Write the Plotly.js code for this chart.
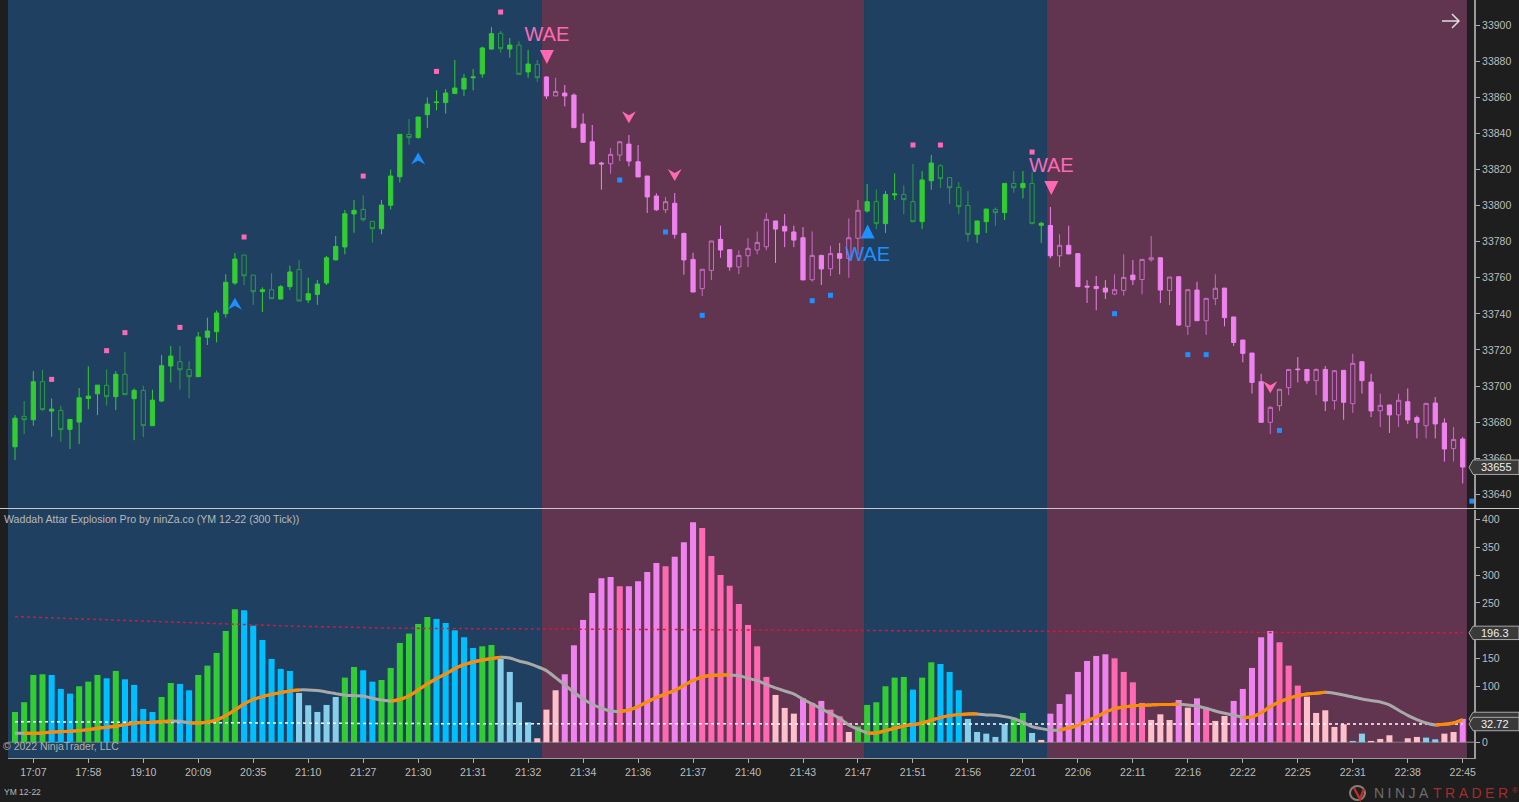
<!DOCTYPE html>
<html>
<head>
<meta charset="utf-8">
<script src="https://cdn.plot.ly/plotly-3.0.1.min.js"></script>
<style>html,body{margin:0;padding:0;background:#1e1e1e;overflow:hidden}#chart{width:1519px;height:802px}</style>
</head>
<body>
<div id="chart"></div>
<script>
const candleOpen=[33666.3,33683.2,33681.3,33702.4,33686.1,33686.5,33676,33680,33693.1,33695.7,33700.4,33694.1,33706.5,33693,33697.6,33678,33691.7,33711.1,33713.5,33709.2,33705.2,33727,33730.1,33740.1,33757.1,33772.6,33761.5,33752.3,33753.4,33748.2,33755.1,33764.5,33747.7,33750.8,33757.1,33769.9,33777.1,33795.4,33797.9,33791.3,33787.2,33800.2,33816,33839.5,33837.7,33850.4,33857.1,33857.1,33862.1,33864.6,33870.9,33873,33886.8,33895.5,33886.8,33889,33874.1,33878.3,
33871.3,33860.8,33862.4,33861.3,33845.2,33835.4,33823.6,33823.2,33828,33834.1,33824.3,33816.4,33805.3,33797.7,33801.3,33784.6,33770.2,33754,33764.1,33781.3,33775.6,33766,33772.2,33775.4,33777.2,33791.5,33788.5,33785.4,33782.2,33758.9,33772.4,33765,33773.4,33770.8,33781.9,
33797,33802.2,33790,33805.9,33806.2,33802.2,33791.1,33813.8,33822.1,33815.5,33810.1,33800.1,33784.1,33791.1,33797.9,33796.1,33812.3,33809.9,33812.3,33789.1,
33789,33772.2,33778,33773.4,33755.4,33755.2,33754.3,33751,33753,33761.5,33759,33770,33771.1,33753,33760.6,33733.1,33753.2,33736.2,33748.4,33754.3,33738.3,33725.5,33718.3,33702.4,33679.9,33689.1,33699.1,33709.4,33709.2,33703,33709.2,33691.9,33708.7,33690.2,33713.5,33702.2,33686.3,33689.5,33684,33691.3,33682.5,33678,33690.6,33679.5,33665.3,33670.6];
const candleHigh=[33683.9,33691.7,33708.3,33709,33693.1,33689.1,33681.5,33698.9,33710.9,33700.5,33709.2,33708.3,33718.8,33698.7,33700.2,33698,33717.2,33722.2,33722.2,33713.8,33729.9,33737.9,33741.9,33761.9,33773.7,33772.6,33761.5,33754.7,33762.6,33756,33766.7,33769.7,33760.1,33758.8,33772.1,33783.2,33797.6,33803.1,33805.7,33791.3,33803.1,33820,33839.5,33848,33849.1,33860,33863.9,33864.6,33880.7,33873,33875.7,33888.1,33899,33896.8,33892.9,33891.1,33886.3,33880.7,
33871.8,33870.9,33866.9,33862.2,33851.1,33844.7,33824.3,33831.9,33835.8,33839.1,33833.6,33816.4,33806.8,33804.8,33807,33785,33773.9,33764.7,33780.4,33788.9,33775.6,33775.2,33782,33785.7,33795.9,33791.5,33795.3,33788.9,33788.1,33785.7,33772.8,33777.8,33779.3,33792.9,33803.1,
33812,33809,33808.1,33817.9,33811.2,33823.1,33819.2,33828.1,33822.9,33815.5,33813.1,33808.1,33791.5,33798.1,33799,33812.3,33819.2,33819.2,33818.4,33791.1,
33799.2,33784.1,33788.9,33773.4,33758.7,33761,33758.7,33761.9,33773,33769.9,33770.2,33783.1,33771.1,33760.4,33760.6,33753.4,33757.8,33748.6,33761.9,33754.3,33738.3,33725.5,33718.3,33706.8,33688.9,33698.2,33709.2,33716.1,33709.2,33709.8,33711.1,33708.5,33708.7,33717.9,33713.5,33706.8,33695.8,33689.5,33695.8,33698.7,33683.6,33690.4,33693.9,33682.1,33677.3,33671.7];
const candleLow=[33659,33673.4,33678,33686.3,33671.9,33669.1,33665.1,33667.8,33687.1,33683.9,33689.1,33686.7,33695.2,33670,33671.7,33678,33691,33702,33698,33693.2,33705.2,33722.7,33724.2,33737.9,33756,33756,33744.9,33741,33748.4,33748.2,33753.2,33747.1,33746,33745,33756,33769.9,33773,33785,33791.1,33779.5,33784.1,33797.9,33812.9,33833.8,33837.1,33843,33852.8,33851,33862.1,33860.8,33863.9,33870.9,33886.3,33884.8,33882,33872.8,33870.9,33868.7,
33859.1,33860.8,33855,33843.2,33835.1,33823.1,33808.8,33817.7,33824.7,33821.8,33815.9,33795.9,33797,33795.9,33781.7,33761.7,33752.1,33749.9,33758.7,33771.1,33763.9,33762.1,33766,33773,33775.2,33768.2,33777,33777,33758.8,33757.8,33756,33761,33761.9,33760,33772.6,
33796.1,33787,33784.8,33803.1,33795.2,33791.1,33787,33808.8,33809.8,33800.9,33795.2,33780,33779.3,33784.8,33788.9,33792,33807.2,33804,33790,33779.3,
33770.8,33766,33773.2,33755.1,33746,33742,33748.2,33750.4,33750.1,33756,33750.8,33768.9,33746,33744.9,33733.3,33728.3,33736.2,33728.3,33744.9,33733.1,33722.2,33713.1,33695.8,33679.9,33673.4,33686.2,33695,33702,33701.3,33695,33686.1,33686.9,33681.3,33685.1,33695.8,33682.8,33677.3,33674,33677.3,33679,33671,33671,33671,33658.1,33658.1,33646];
const candleClose=[33682.2,33681.3,33702.4,33686.9,33687.2,33675.8,33681.5,33693.5,33694.4,33700.5,33694.1,33706.5,33695.2,33697.6,33678,33692.2,33711.3,33716.6,33709,33705.2,33727.2,33730.5,33740.5,33757.5,33770.4,33761.1,33752.3,33753.4,33748.4,33755.1,33763.2,33747.1,33751.2,33756.5,33771.1,33777.4,33795.5,33797.4,33792.2,33787.2,33800.3,33816.4,33839.5,33837.7,33849.1,33856.3,33857.4,33862.4,33865.2,33870.6,33871.3,33887.4,33895.3,33887,33889,33872.8,33878.5,33870.9,
33860.8,33863.3,33860.8,33843.2,33835.1,33823.1,33823.1,33828.4,33835.4,33824.7,33815.9,33804.8,33797.7,33802.2,33784.1,33769.9,33752.1,33764.7,33780.4,33775.4,33766,33772.4,33776.3,33779.6,33792.4,33787,33785.9,33780.9,33758.8,33772.4,33764.9,33773.4,33770.8,33782.2,33797.4,
33802.2,33790,33806.2,33806.5,33803.3,33791.1,33814.2,33823.6,33814.9,33809.9,33799.4,33784.1,33791.5,33798.1,33796.1,33812.3,33809.9,33812.3,33790,33790.2,
33772.2,33778,33773.2,33755.1,33754.9,33754,33752.1,33753.4,33760.2,33758.9,33770.2,33771.1,33753.2,33760.4,33733.8,33753.4,33736.2,33748.6,33754.2,33737.9,33724.2,33718.1,33702,33679.9,33688.2,33698.2,33709.2,33709.1,33703,33709.2,33691.7,33708.5,33691,33712.6,33703,33686.2,33689.3,33684,33692.1,33681.2,33679.9,33690.4,33679,33665.1,33670.4,33655.1];
const wvValues=[54.4,71.8,120.8,122,120.8,95.7,87.3,100.5,108.8,120.8,114.8,128,113,102.9,59.8,54.4,81.3,106.4,104.7,93.3,120.8,137.5,160.3,199.7,238.6,236.8,209.3,183.6,149.5,131.6,128,88.5,66.4,54.4,67,81.3,116,135.1,129.2,108.8,111.8,133.4,178.2,195,212.3,224.8,221.3,214,200.9,188.4,169.2,172.2,174.6,149.5,126.2,71.8,35.9,7.2,58.6,93.3,122,174,219.5,267.9,294.2,296.6,279.9,279.9,288.8,305.6,321.7,315.7,333,358.8,394.7,384.5,334.3,300.2,281,248.2,210.5,172.2,117.2,84.9,61.6,51.4,78.9,70.6,74.2,58.6,46.6,18.5,28.7,67,71.8,100.5,116,117.2,94.5,116,143.5,140.5,126.2,93.3,41.9,18.5,15.5,9.6,32.9,44.3,52.6,16.7,4.2,51.4,68.8,86.1,126.2,145.9,154.9,157.9,150.7,126.2,107.6,70.6,40.1,50.2,40,75.9,62.2,78.9,62.2,38.3,47.2,74.2,95.7,133.4,188.4,199.7,179.4,137.5,101.7,81.9,52.6,57.4,27.5,32.3,2.4,15.5,2.4,6,12.6,0,7.2,9.6,8.4,5.4,15.5,18.5,41.9];
const wvCodeRuns=["GGGG","BBB","GGG","B","G","BBBB","GG","BB","GGGGG","BBBBBB","LLLLL","GG","BB","GGGGGG","BBBBB","GG","LLLL","PPP","VVVVVV","H","VVVV","H","VVV","HHHHHHHH","PPP","V","H","V","HH","P","GGGGGG","B","GG","BBB","LLLLL","GG","L","P","VVVVVVV","HHHH","PPP","V","P","V","H","PP","VVVVV","HHH","PPPPP","LL","PPPPPP","LL","PP","V"];
const lineValues=[16.1,16.1,16.1,16.7,18.5,19.1,19.7,20.9,22.7,25.1,26.9,28.7,31.7,34.1,35.3,35.9,37.1,38.3,37.7,34.7,34.7,36.5,40,47.8,58,68.8,77.1,81.9,86.1,89.1,92.1,93.9,93.9,92.7,90.3,87.3,84.3,83.7,83.1,78.9,75.9,74,76.8,83.1,93.9,104.7,114.2,122.6,132.2,139.3,144.1,147.7,150.1,152.5,151.3,145.9,141.7,135.7,128.6,116,102.9,89.7,77.7,68.2,61,56.2,55.6,58,64,72.4,80.1,86.7,93.3,101.7,111.2,117.2,120.2,120.8,120.8,119.6,114.8,110.6,104,97.5,92,86.7,77.1,68.8,59.8,52,43,31.1,23.3,16.7,16.7,20.9,25.1,29.3,31.7,34.7,39.5,44.3,47.8,49.6,50.8,50.8,49,48.4,46,42.5,35.9,28.1,24.5,22.1,22.1,25.7,30.5,38.3,45.4,53.8,60.4,63.4,65.2,66.4,67,67.6,67.6,68.8,67,65.2,61,56.2,52,48.4,44.9,45.4,53.2,64,72.4,78.9,83.7,86.7,87.9,89.7,87.9,84.9,81.3,77.7,74.8,72.4,67,57.4,48.4,40.7,34.7,31.1,32.3,34.7,40.7];
const orangeSegments=[[1,17],[19,31],[41,53],[66,78],[93,105],[114,127],[134,143],[155,158]];
const redIdx=[0,10,20,30,42,60,84,100,120,140,158];
const redVals=[225.4,220,214,208.5,204.5,203,201.5,199.5,197.8,196.8,196.3];
const whiteIdx=[0,20,42,84,158];
const whiteVals=[37,35,33.5,33,32.72];
const pinkDotIdx=[4,10,12,18,25,38,46,53,98,101,111];
const pinkDotVals=[33703.7,33719.6,33729.6,33732.5,33782.6,33816.4,33874.4,33907.3,33833.6,33833.6,33829.7];
const blueDotIdx=[66,71,75,87,89,120,128,130,138,159];
const blueDotVals=[33814.2,33785.4,33739.2,33747.3,33750.3,33740.1,33717.4,33717.4,33675.4,33636.2];
const upArrowIdx=[24,44];const upArrowVals=[33749,33829.5];
const downArrowIdx=[67,72,137];const downArrowVals=[33845.6,33813.6,33696];
const waeDownIdx=[58.05,113.1];const waeDownVals=[33882.4,33809.8];
const waeUpIdx=[93.05];const waeUpVals=[33785.6];
const waePinkTextVals=[33894,33821.5];const waeBlueTextVals=[33772.1];
const greenRanges=[[0,57],[93,112]];
const blueBands=[[-0.764,57.51],[92.66,112.63]];
const roseBands=[[57.51,92.66],[112.63,158.46]];
const tickIdx=[2,8,14,20,26,32,38,44,50,56,62,68,74,80,86,92,98,104,110,116,122,128,134,140,146,152,158];
const tickLabels=["17:07","17:58","19:10","20:09","20:35","21:10","21:27","21:30","21:31","21:32","21:34","21:36","21:37","21:40","21:43","21:47","21:51","21:56","22:01","22:06","22:11","22:16","22:22","22:25","22:31","22:38","22:45"];
const priceTicks=[33640,33660,33680,33700,33720,33740,33760,33780,33800,33820,33840,33860,33880,33900];
const wvTicks=[0,50,100,150,200,250,300,350,400];
const wvTickText=["0","","100","150","","250","300","350","400"];

const W=1519,H=802;
const px=v=>v/W, py=v=>1-v/H;
const FONT='"Liberation Sans",Arial,sans-serif';
const colors={G:'#32CD32',B:'#00BFFF',L:'#87CEEB',V:'#EE82EE',H:'#FF69B4',P:'#FFC0CB'};
const wvCodes=wvCodeRuns.join('');
const idx=candleOpen.map((_,i)=>i);
const isGreen=i=>greenRanges.some(r=>i>=r[0]&&i<=r[1]);
const pick=(arr,f)=>idx.filter(f).map(i=>arr[i]);
function candle(f,fillUp,fillDown,lineUp,lineDown){
  return {type:'candlestick',xaxis:'x',yaxis:'y',x:idx.filter(f),open:pick(candleOpen,f),high:pick(candleHigh,f),low:pick(candleLow,f),close:pick(candleClose,f),
    increasing:{line:{color:lineUp,width:1},fillcolor:fillUp},decreasing:{line:{color:lineDown,width:1},fillcolor:fillDown},hoverinfo:'skip',showlegend:false,whiskerwidth:0};
}
const inOrange=i=>orangeSegments.some(s=>i>=s[0]&&i<=s[1]);
const traces=[
  candle(isGreen,'#32CD32','rgba(0,0,0,0)','#32CD32','#2b9a46'),
  candle(i=>!isGreen(i),'rgba(0,0,0,0)','#EE82EE','#c86cc4','#EE82EE'),
  {type:'scatter',mode:'markers',xaxis:'x',yaxis:'y',x:pinkDotIdx,y:pinkDotVals,marker:{symbol:'square',size:5,color:'#FF69B4'},hoverinfo:'skip'},
  {type:'scatter',mode:'markers',xaxis:'x',yaxis:'y',x:blueDotIdx,y:blueDotVals,marker:{symbol:'square',size:5,color:'#1E90FF'},hoverinfo:'skip'},
  {type:'scatter',mode:'text',xaxis:'x',yaxis:'y',x:waeDownIdx,y:waePinkTextVals,text:['WAE','WAE'],textposition:'middle center',textfont:{family:FONT,size:20,color:'#FF69B4'},hoverinfo:'skip'},
  {type:'scatter',mode:'text',xaxis:'x',yaxis:'y',x:waeUpIdx,y:waeBlueTextVals,text:['WAE'],textposition:'middle center',textfont:{family:FONT,size:20,color:'#1E90FF'},hoverinfo:'skip'},
  {type:'bar',xaxis:'x',yaxis:'y2',x:idx,y:wvValues,width:0.66,marker:{color:wvCodes.split('').map(c=>colors[c]),line:{width:0}},hoverinfo:'skip'},
  {type:'scatter',mode:'lines',xaxis:'x',yaxis:'y2',x:redIdx,y:redVals,line:{color:'#DC143C',width:1.5,dash:'dot'},hoverinfo:'skip'},
  {type:'scatter',mode:'lines',xaxis:'x',yaxis:'y2',x:whiteIdx,y:whiteVals,line:{color:'#ffffff',width:1.5,dash:'dot'},hoverinfo:'skip'},
  {type:'scatter',mode:'lines',xaxis:'x',yaxis:'y2',x:idx,y:lineValues,line:{color:'#A9A9A9',width:3,shape:'spline',smoothing:0.6},hoverinfo:'skip'},
  {type:'scatter',mode:'lines',xaxis:'x',yaxis:'y2',x:idx,y:lineValues.map((v,i)=>inOrange(i)?v:null),line:{color:'#FF8C00',width:3,shape:'spline',smoothing:0.6},connectgaps:false,hoverinfo:'skip'}
];
const bandShape=(b,c)=>({type:'rect',layer:'below',xref:'x',yref:'paper',x0:b[0],x1:b[1],y0:py(758),y1:1,fillcolor:c,line:{width:0}});
const glyph=(xv,yv,path,color)=>({type:'path',layer:'above',xref:'x',yref:'y',xsizemode:'pixel',ysizemode:'pixel',xanchor:xv,yanchor:yv,path,fillcolor:color,line:{width:0}});
const shapes=[
  ...blueBands.map(b=>bandShape(b,'#1f4060')),
  ...roseBands.map(b=>bandShape(b,'#61344f')),
  ...upArrowIdx.map((x,k)=>glyph(x,upArrowVals[k],'M0,0L-7,-12L0,-8L7,-12Z','#1E90FF')),
  ...downArrowIdx.map((x,k)=>glyph(x,downArrowVals[k],'M0,0L-7,12L0,8L7,12Z','#FF69B4')),
  ...waeDownIdx.map((x,k)=>glyph(x,waeDownVals[k],'M-7,7L7,7L0,-7Z','#FF69B4')),
  ...waeUpIdx.map((x,k)=>glyph(x,waeUpVals[k],'M-7,-7L7,-7L0,7Z','#1E90FF')),
  {type:'line',layer:'above',xref:'paper',yref:'paper',x0:0,x1:1,y0:py(508.5),y1:py(508.5),line:{color:'#c8c8c8',width:1}},
  {type:'line',layer:'below',xref:'paper',yref:'y2',x0:px(8),x1:px(1474),y0:0,y1:0,line:{color:'#6a6a6a',width:1.5}},
  {type:'path',layer:'above',xref:'paper',yref:'paper',path:`M${px(1442)},${py(21)}L${px(1459)},${py(21)}M${px(1452)},${py(14)}L${px(1459)},${py(21)}L${px(1452)},${py(28)}`,line:{color:'#dddddd',width:1.5}},
  {type:'circle',layer:'above',xref:'paper',yref:'paper',x0:px(1350),x1:px(1365),y0:py(800),y1:py(786),line:{color:'#8a7f76',width:2},fillcolor:'rgba(0,0,0,0)'},
  {type:'path',layer:'above',xref:'paper',yref:'paper',path:`M${px(1354)},${py(788)}L${px(1360)},${py(799)}L${px(1364)},${py(789)}`,line:{color:'#b5302c',width:2.5}}
];
function labelBox(val,axis,half){
  const x0=px(1469),x1=px(1473),x2=px(1519);
  shapes.push({type:'path',layer:'above',xref:'paper',yref:axis,path:`M${x0},${val}L${x1},${val+half}L${x2},${val+half}L${x2},${val-half}L${x1},${val-half}Z`,fillcolor:'#3a3a3a',line:{color:'#a8a8a8',width:1}});
}
labelBox(33655,'y',4);labelBox(41.9,'y2',12);labelBox(196.3,'y2',12);labelBox(32.72,'y2',12);
const valueNote=(val,axis,txt)=>({xref:'paper',yref:axis,x:px(1479),y:val,xanchor:'left',yanchor:'middle',text:txt,showarrow:false,font:{family:FONT,size:11,color:'#f0f0f0'}});
const note=(x,y,text,size,color)=>({xref:'paper',yref:'paper',x:px(x),y:py(y),xanchor:'left',yanchor:'middle',text,showarrow:false,font:{family:FONT,size,color}});
const layout={
  width:W,height:H,margin:{l:0,r:0,t:0,b:0,autoexpand:false},paper_bgcolor:'#1e1e1e',plot_bgcolor:'#1e1e1e',showlegend:false,
  boxmode:'overlay',boxgap:0.34,bargap:0.3,barmode:'overlay',
  xaxis:{domain:[px(8),px(1474)],range:[-0.764,159.23],anchor:'y2',tickmode:'array',tickvals:tickIdx,ticktext:tickLabels,showgrid:false,zeroline:false,showline:true,linecolor:'#9a9a9a',linewidth:1,ticks:'outside',ticklen:4,tickcolor:'#b0b0b0',tickfont:{family:FONT,size:10.5,color:'#bdbdbd'},rangeslider:{visible:false},fixedrange:true},
  yaxis:{domain:[py(508),1],range:[33632.4,33913.97],side:'right',anchor:'x',tickmode:'array',tickvals:priceTicks,ticktext:priceTicks.map(String),showgrid:false,zeroline:false,showline:true,linecolor:'#9a9a9a',linewidth:2,ticks:'outside',ticklen:4,tickcolor:'#b0b0b0',tickfont:{family:FONT,size:10.5,color:'#bdbdbd'},fixedrange:true},
  yaxis2:{domain:[py(758),py(510)],range:[-28.2,416.7],side:'right',anchor:'x',tickmode:'array',tickvals:wvTicks,ticktext:wvTickText,showgrid:false,zeroline:false,showline:true,linecolor:'#9a9a9a',linewidth:2,ticks:'outside',ticklen:4,tickcolor:'#b0b0b0',tickfont:{family:FONT,size:10.5,color:'#bdbdbd'},fixedrange:true},
  shapes,
  annotations:[
    valueNote(33655,'y','33655'),valueNote(196.3,'y2','196.3'),valueNote(32.72,'y2','32.72'),
    note(2,519,'Waddah Attar Explosion Pro by ninZa.co (YM 12-22 (300 Tick))',10.6,'#b8b8b8'),
    note(1,746,'© 2022 NinjaTrader, LLC',10.5,'#b0b0b0'),
    note(2,792,'YM 12-22',8.5,'#b8b8b8'),
    note(1372,793,'N\u2005I\u2005N\u2005J\u2005A',14,'#6e6e6e'),
    note(1431,793,'T\u2005R\u2005A\u2005D\u2005E\u2005R',14,'#a32d2d'),
    note(1510,790,'®',8,'#a32d2d')
  ]
};
Plotly.newPlot('chart',traces,layout,{displayModeBar:false,staticPlot:true});
</script>
</body>
</html>
